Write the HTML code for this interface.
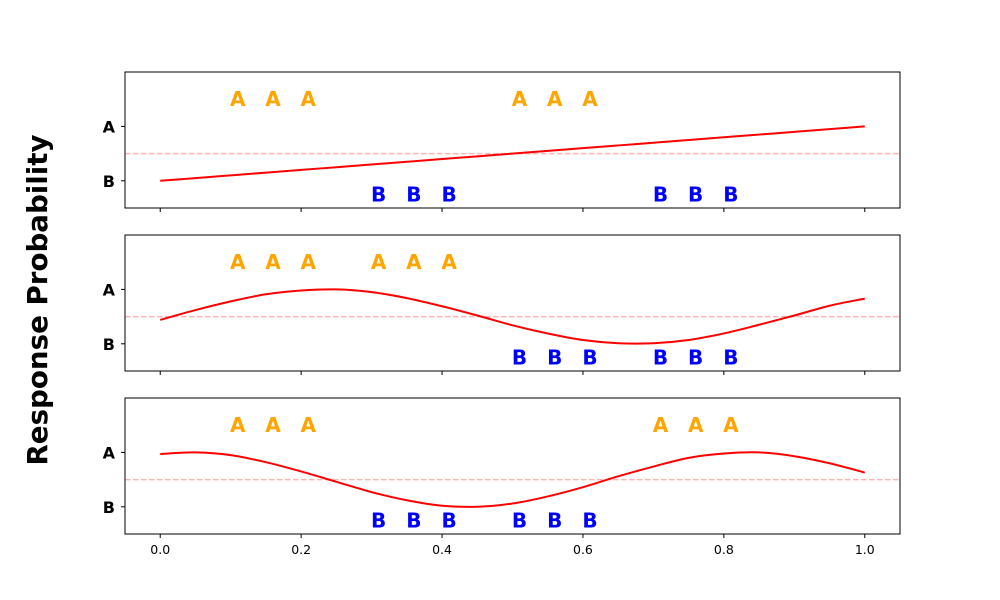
<!DOCTYPE html>
<html><head><meta charset="utf-8"><style>
body{margin:0;background:#fff;}
svg{display:block;font-family:"DejaVu Sans","Liberation Sans",sans-serif;}
</style></head><body>
<svg id="chart" width="1000" height="600" viewBox="0 0 1000 600">
<text x="39" y="300" transform="rotate(-90 39 300)" text-anchor="middle" dominant-baseline="middle" font-size="27.7" font-weight="bold">Response Probability</text>
</svg>
<script>
const xs = [0,0.05,0.1,0.15,0.2,0.25,0.3,0.35,0.4,0.45,0.5,0.55,0.6,0.65,0.7,0.75,0.8,0.85,0.9,0.95,1.0];
const series1 = [0,0.05,0.1,0.15,0.2,0.25,0.3,0.35,0.4,0.45,0.5,0.55,0.6,0.65,0.7,0.75,0.8,0.85,0.9,0.95,1.0];
const series2 = [0.44,0.62,0.78,0.91,0.98,1.0,0.95,0.84,0.69,0.52,0.34,0.19,0.07,0.01,0.01,0.07,0.19,0.35,0.52,0.70,0.83];
const series3 = [0.97,1.0,0.95,0.82,0.65,0.46,0.27,0.12,0.02,0.0,0.06,0.19,0.36,0.56,0.74,0.90,0.98,1.0,0.93,0.80,0.63];
const aPos1 = [0.11,0.16,0.21,0.51,0.56,0.61];
const bPos1 = [0.31,0.36,0.41,0.71,0.76,0.81];
const aPos2 = [0.11,0.16,0.21,0.31,0.36,0.41];
const bPos2 = [0.51,0.56,0.61,0.71,0.76,0.81];
const aPos3 = [0.11,0.16,0.21,0.71,0.76,0.81];
const bPos3 = [0.31,0.36,0.41,0.51,0.56,0.61];
const xTicks = [0,0.2,0.4,0.6,0.8,1.0];
const xTickLabels = ["0.0","0.2","0.4","0.6","0.8","1.0"];

const NS = "http://www.w3.org/2000/svg";
const svg = document.getElementById('chart');
const L = 125, R = 900;
const xMin = -0.05, xMax = 1.05, yMin = -0.5, yMax = 2.0;
const xs2px = v => L + (v - xMin) / (xMax - xMin) * (R - L);
function mk(tag, attrs){const e=document.createElementNS(NS,tag);for(const k in attrs)e.setAttribute(k,attrs[k]);svg.appendChild(e);return e;}
function smoothPath(pts){
  let d = 'M' + pts[0][0].toFixed(2) + ',' + pts[0][1].toFixed(2);
  for(let i=0;i<pts.length-1;i++){
    const p0=pts[Math.max(0,i-1)], p1=pts[i], p2=pts[i+1], p3=pts[Math.min(pts.length-1,i+2)];
    const c1x=p1[0]+(p2[0]-p0[0])/6, c1y=p1[1]+(p2[1]-p0[1])/6;
    const c2x=p2[0]-(p3[0]-p1[0])/6, c2y=p2[1]-(p3[1]-p1[1])/6;
    d += ' C'+c1x.toFixed(2)+','+c1y.toFixed(2)+' '+c2x.toFixed(2)+','+c2y.toFixed(2)+' '+p2[0].toFixed(2)+','+p2[1].toFixed(2);
  }
  return d;
}

const panels = [
 {top:72, data:series1, a:aPos1, b:bPos1},
 {top:235, data:series2, a:aPos2, b:bPos2},
 {top:398, data:series3, a:aPos3, b:bPos3}
];
panels.forEach((p, i) => {
  const H = 136, T = p.top, B = T + H;
  const ypx = v => B - (v - yMin) / (yMax - yMin) * H;
  const frame = mk('rect',{x:L,y:T,width:R-L,height:H,fill:'none',stroke:'#000','stroke-width':1});
  
  
  const ref = mk('line',{x1:L,x2:R,y1:ypx(0.5),y2:ypx(0.5),stroke:'#ff0000','stroke-opacity':0.3,'stroke-width':1.5,'stroke-dasharray':'5.5,2.5'});
  
  
  const pts = xs.map((x,j)=>[xs2px(x), ypx(p.data[j])]);
  const line = mk('path',{d:smoothPath(pts),fill:'none',stroke:'#ff0000','stroke-width':2,'stroke-linejoin':'round'});
  
  
  [['A',1],['B',0]].forEach(([lab,v])=>{
    const tk = mk('line',{x1:L-4,x2:L,y1:ypx(v),y2:ypx(v),stroke:'#000'});
    
    
    const t = mk('text',{x:L-10,y:ypx(v)+6,'text-anchor':'end','font-size':16,'font-weight':'bold'});
    t.textContent = lab;
    
    
  });
  p.a.forEach(x=>{
    const t = mk('text',{x:xs2px(x),y:ypx(1.5)+7,'text-anchor':'middle','font-size':20,'font-weight':'bold',fill:'orange'});
    t.textContent='A';
    
    
  });
  p.b.forEach(x=>{
    const t = mk('text',{x:xs2px(x),y:ypx(-0.25)+7,'text-anchor':'middle','font-size':20,'font-weight':'bold',fill:'blue'});
    t.textContent='B';
    
    
  });
  xTicks.forEach((x,j)=>{
    const tk = mk('line',{x1:xs2px(x),x2:xs2px(x),y1:B,y2:B+4,stroke:'#000'});
    
    
    if(i===2){
      const t = mk('text',{x:xs2px(x),y:B+20,'text-anchor':'middle','font-size':12.5});
      t.textContent = xTickLabels[j];
      
      
    }
  });
});
</script>
</body></html>
